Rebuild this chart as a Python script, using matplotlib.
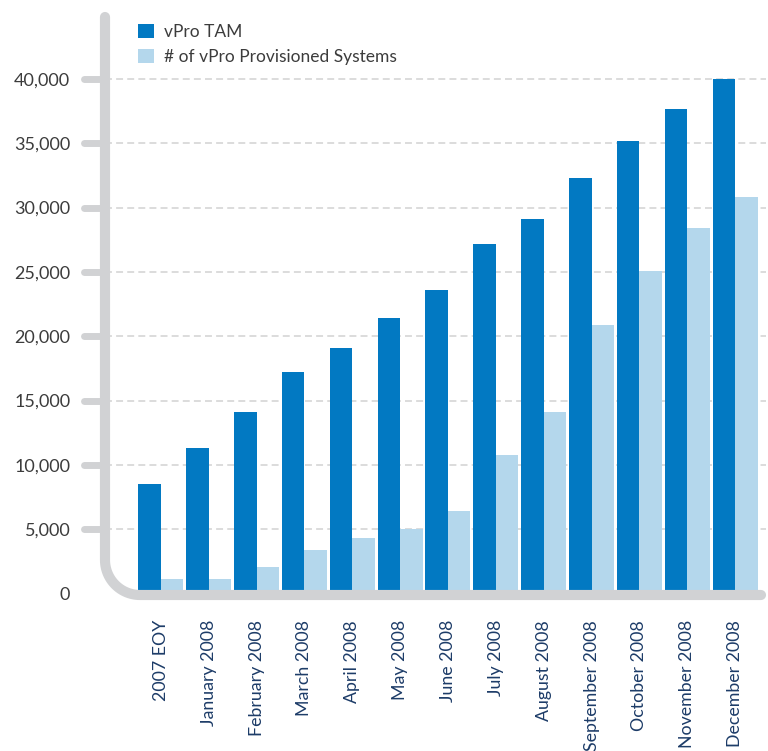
import numpy as np
import matplotlib
matplotlib.use('Agg')
import matplotlib.pyplot as plt
from matplotlib.transforms import Affine2D
from matplotlib.ticker import FuncFormatter

months = ['2007 EOY', 'January 2008', 'February 2008', 'March 2008', 'April 2008',
          'May 2008', 'June 2008', 'July 2008', 'August 2008', 'September 2008',
          'October 2008', 'November 2008', 'December 2008']
tam = [8500, 11300, 14100, 17200, 19100, 21400, 23600, 27200, 29100, 32300, 35200, 37700, 40000]
provisioned = [1100, 1100, 2100, 3400, 4300, 5000, 6400, 10800, 14100, 20900, 25100, 28400, 30800]
yticks = list(range(0, 40001, 5000))

dark = '#0279c2'
light = '#b4d7ec'
grey = '#d1d2d4'
plt.rcParams['font.family'] = ['Lato', 'DejaVu Sans']
plt.rcParams['lines.scale_dashes'] = False

W, H = 768, 751
fig = plt.figure(figsize=(W / 100, H / 100), dpi=100)
# axes box in image pixels (left, top, right, bottom)
L, T, R, B = 105, 12, 766, 595
ax = fig.add_axes([L / W, 1 - B / H, (R - L) / W, (B - T) / H])
for s in ax.spines.values():
    s.set_visible(False)

x = np.arange(len(months))
w = 0.47
ax.bar(x - 0.235, tam, w, color=dark, label='vPro TAM', zorder=3)
ax.bar(x + 0.235, provisioned, w, color=light, label='# of vPro Provisioned Systems', zorder=3)

ax.set_xlim(-1.167, 12.646)
ax.set_ylim(-110, 45200)

ax.set_yticks(yticks)
ax.yaxis.set_major_formatter(FuncFormatter(lambda v, p: f'{int(v):,}'))
ax.tick_params(axis='y', length=0, pad=25, labelsize=13, labelcolor='#3c3c3c')
ax.set_xticks(x)
ax.set_xticklabels(months, rotation=90)
ax.tick_params(axis='x', length=0, pad=18, labelsize=12.8, labelcolor='#1d3c68')

ax.grid(axis='y', color='#d9d9d9', linewidth=1.3, linestyle=(0, (5, 3)), zorder=0)
ax.yaxis.get_gridlines()[0].set_visible(False)
ax.set_axisbelow(True)

# decorative rounded axis frame, drawn in image pixel coordinates
px = Affine2D().scale(1 / W, -1 / H).translate(0, 1) + fig.transFigure
r = 35
th = np.linspace(np.pi, 1.5 * np.pi, 30)
cx, cy = L + r, B - r
arc_x = cx + r * np.cos(th)
arc_y = cy - r * np.sin(th)
frame_x = np.concatenate([[L], arc_x, [R - 5]])
frame_y = np.concatenate([[T + 5], arc_y, [B]])
fig.add_artist(plt.Line2D(frame_x, frame_y, transform=px, color=grey, lw=7.3,
                          solid_capstyle='round', solid_joinstyle='round', zorder=5))
for v in yticks[1:]:
    yp = B - (v + 110) / 45310 * (B - T)
    fig.add_artist(plt.Line2D([84, L], [yp, yp], transform=px, color=grey, lw=5,
                              solid_capstyle='round', zorder=5))

leg = ax.legend(loc='upper left', bbox_to_anchor=(138 / W, 1 - 24 / H),
                bbox_transform=fig.transFigure, frameon=False, fontsize=12.5,
                handlelength=0.9, handleheight=0.9, handletextpad=0.6,
                labelspacing=0.5, borderaxespad=0, borderpad=0)
for t in leg.get_texts():
    t.set_color('#3c3c3c')

fig.savefig('out.png', dpi=100)
